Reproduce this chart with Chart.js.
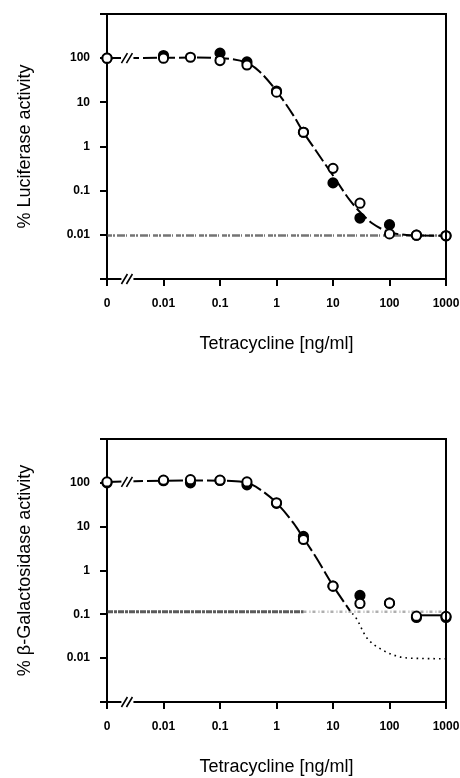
<!DOCTYPE html>
<html>
<head>
<meta charset="utf-8">
<script src="https://cdn.jsdelivr.net/npm/chart.js@4.4.0/dist/chart.umd.min.js"></script>
<style>
  body { margin: 0; background: #fff; }
  #wrap { position: relative; width: 460px; height: 778px; }
  canvas { position: absolute; left: 0; }
</style>
</head>
<body>
<div id="wrap">
  <canvas id="lucChart" width="460" height="389" style="top:0"></canvas>
  <canvas id="galChart" width="460" height="389" style="top:389px"></canvas>
</div>
<script>
// axis ticks (0 tetracycline is plotted at the 0.001 position)
const doseTicks = [0.001, 0.01, 0.1, 1, 10, 100, 1000];
const doseTickLabels = ['0', '0.01', '0.1', '1', '10', '100', '1000'];
const activityTicks = [0.001, 0.01, 0.1, 1, 10, 100, 1000];
const activityTickLabels = ['', '0.01', '0.1', '1', '10', '100', ''];

// Luciferase panel
const lucOpenDose = [0.001, 0.01, 0.03, 0.1, 0.3, 1, 3, 10, 30, 100, 300, 1000];
const lucOpenValue = [100, 100, 105, 88, 70, 17, 2.1, 0.32, 0.052, 0.0105, 0.0098, 0.0095];
const lucFilledDose = [0.001, 0.01, 0.1, 0.3, 1, 3, 10, 30, 100, 300, 1000];
const lucFilledValue = [100, 115, 130, 82, 18, 2.1, 0.15, 0.024, 0.017, 0.0098, 0.0095];
const lucCurveDose = [0.001, 0.01, 0.03, 0.1, 0.3, 0.5, 1, 2, 3, 5, 10, 20, 30, 50, 100, 200, 300, 1000];
const lucCurveValue = [100, 102, 103, 100, 78, 50, 18, 5, 2.1, 0.8, 0.22, 0.06, 0.033, 0.018, 0.0115, 0.0099, 0.0097, 0.0095];
const lucBackground = 0.0097;

// beta-Galactosidase panel
const galOpenDose = [0.001, 0.01, 0.03, 0.1, 0.3, 1, 3, 10, 30, 100, 300, 1000];
const galOpenValue = [105, 115, 118, 115, 105, 35, 5.1, 0.44, 0.177, 0.18, 0.091, 0.09];
const galFilledDose = [0.001, 0.01, 0.03, 0.1, 0.3, 1, 3, 10, 30, 100, 300, 1000];
const galFilledValue = [100, 112, 100, 113, 90, 34, 6, 0.44, 0.27, 0.18, 0.085, 0.085];
const galCurveDose = [0.001, 0.01, 0.03, 0.1, 0.3, 0.5, 1, 2, 3, 5, 10, 20];
const galCurveValue = [105, 112, 113, 112, 100, 72, 35, 12, 5.5, 2, 0.45, 0.12];
const galTailDose = [300, 1000];
const galTailValue = [0.095, 0.095];
const galDottedDose = [22, 26, 39, 78, 153, 300, 1000];
const galDottedValue = [0.105, 0.08, 0.03, 0.015, 0.0107, 0.0099, 0.0097];
const galBackground = 0.115;

const FONT = '"Liberation Sans", Arial, Helvetica, sans-serif';
const BREAK_AT = 0.0023;

function pts(xs, ys) {
    return xs.map((x, i) => ({x: x, y: ys[i]}));
}

function flat(value) {
    return [{x: doseTicks[0], y: value}, {x: doseTicks[doseTicks.length - 1], y: value}];
}

// box edges and the // breaks on the x axis and the curve
const framePlugin = {
    id: 'frame',
    afterDraw(chart, args, opts) {
        const {ctx, chartArea: a, scales: {x, y}} = chart;
        ctx.save();
        ctx.strokeStyle = '#000';
        ctx.lineWidth = 2;
        ctx.beginPath();
        ctx.moveTo(a.left, a.top);
        ctx.lineTo(a.right, a.top);
        ctx.lineTo(a.right, a.bottom);
        ctx.stroke();
        const bx = x.getPixelForValue(BREAK_AT);
        [a.bottom, y.getPixelForValue(opts.curveStart)].forEach(py => {
            ctx.fillStyle = '#fff';
            ctx.fillRect(bx - 6, py - 2, 12, 4);
            ctx.lineWidth = 1.6;
            ctx.beginPath();
            [-3, 2].forEach(dx => {
                ctx.moveTo(bx + dx - 3, py + 5);
                ctx.lineTo(bx + dx + 3, py - 5);
            });
            ctx.stroke();
        });
        ctx.restore();
    }
};

function markers(data, fill, order) {
    return {
        data: data, showLine: false, order: order, clip: false,
        pointRadius: 4.6, pointBorderWidth: 2,
        pointBackgroundColor: fill, pointBorderColor: '#000'
    };
}

function line(data, color, width, dash, order) {
    return {
        data: data, showLine: true, order: order, clip: false,
        pointRadius: 0, borderColor: color, borderWidth: width, borderDash: dash,
        cubicInterpolationMode: 'monotone'
    };
}

function makeChart(id, yTitle, datasets, curveStart, padTop, xHeight, xTitlePad) {
    return new Chart(document.getElementById(id), {
        type: 'scatter',
        data: {datasets: datasets},
        plugins: [framePlugin],
        options: {
            responsive: false,
            animation: false,
            events: [],
            layout: {padding: {top: padTop, right: 14, left: 0, bottom: 0}},
            plugins: {
                legend: {display: false},
                tooltip: {enabled: false},
                frame: {curveStart: curveStart}
            },
            scales: {
                x: {
                    type: 'logarithmic', min: 0.001, max: 1000,
                    afterBuildTicks: s => { s.ticks = doseTicks.map(v => ({value: v})); },
                    afterFit: s => { s.height = xHeight; s.paddingLeft = 0; s.paddingRight = 0; },
                    grid: {drawOnChartArea: false, color: '#000', lineWidth: 2, tickLength: 7},
                    border: {color: '#000', width: 2},
                    ticks: {
                        autoSkip: false, maxRotation: 0, padding: 10, color: '#000',
                        font: {family: FONT, size: 12, weight: 'bold'},
                        callback: (v, i) => doseTickLabels[i]
                    },
                    title: {
                        display: true, text: 'Tetracycline [ng/ml]', color: '#000',
                        font: {family: FONT, size: 18}, padding: {top: 0, bottom: xTitlePad}
                    }
                },
                y: {
                    type: 'logarithmic', min: 0.001, max: 1000,
                    afterBuildTicks: s => { s.ticks = activityTicks.map(v => ({value: v})); },
                    afterFit: s => { s.width = 107; s.paddingTop = 0; s.paddingBottom = 0; },
                    grid: {drawOnChartArea: false, color: '#000', lineWidth: 2, tickLength: 7},
                    border: {color: '#000', width: 2},
                    ticks: {
                        autoSkip: false, padding: 10, color: '#000',
                        font: {family: FONT, size: 12, weight: 'bold'},
                        callback: (v, i) => activityTickLabels[i]
                    },
                    title: {
                        display: true, text: yTitle, color: '#000',
                        font: {family: FONT, size: 18}, padding: {top: 14, bottom: 0}
                    }
                }
            }
        }
    });
}

makeChart('lucChart', '% Luciferase activity', [
    markers(pts(lucOpenDose, lucOpenValue), '#fff', 0),
    markers(pts(lucFilledDose, lucFilledValue), '#000', 1),
    line(pts(lucCurveDose, lucCurveValue), '#000', 2, [14, 4], 2),
    line(flat(lucBackground), 'rgba(70,70,70,0.75)', 2.5, [5, 1, 2, 2, 8, 1, 1, 3], 3)
], lucCurveValue[0], 14, 110, 34);

makeChart('galChart', '% \u03b2-Galactosidase activity', [
    markers(pts(galOpenDose, galOpenValue), '#fff', 0),
    markers(pts(galFilledDose, galFilledValue), '#000', 1),
    line(pts(galCurveDose, galCurveValue), '#000', 2, [16, 4], 2),
    line(pts(galTailDose, galTailValue), '#000', 2, [], 2),
    line(pts(galDottedDose, galDottedValue), '#000', 1.6, [1.6, 4], 2),
    line(pts([doseTicks[0], 3], [galBackground, galBackground]), 'rgba(50,50,50,0.8)', 3, [6, 1, 3, 1], 3),
    line(pts([3, doseTicks[doseTicks.length - 1]], [galBackground, galBackground]), 'rgba(110,110,110,0.55)', 2.5, [3, 3, 1, 2], 3)
], galCurveValue[0], 50, 76, 0);
</script>
</body>
</html>
